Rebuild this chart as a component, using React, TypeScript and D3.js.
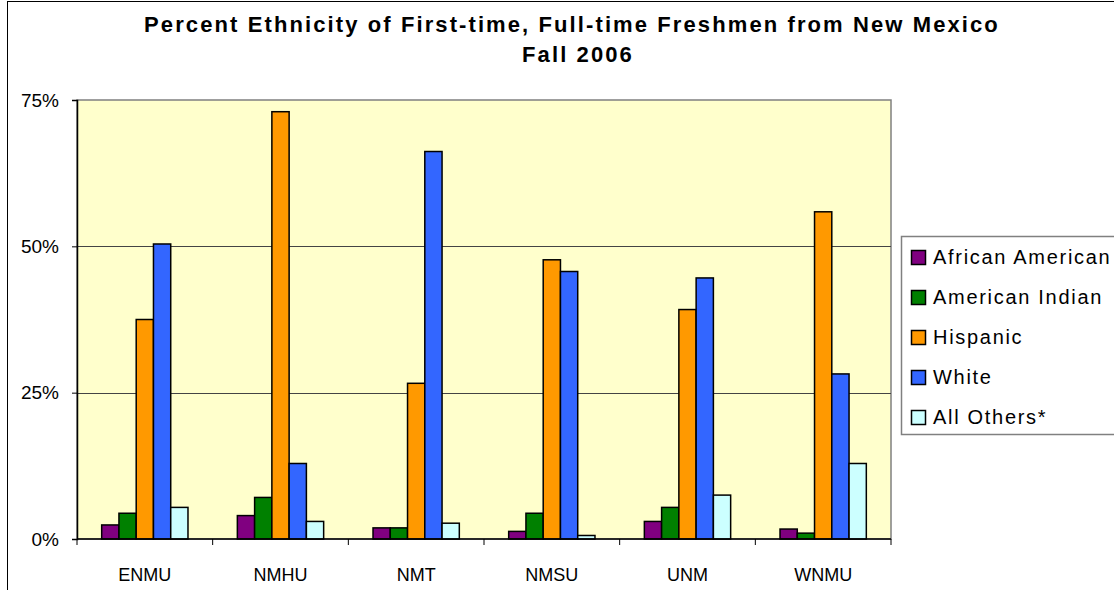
import * as d3 from "d3";
import { useEffect, useRef } from "react";

const schools = ["ENMU", "NMHU", "NMT", "NMSU", "UNM", "WNMU"];
const groups = ["African American", "American Indian", "Hispanic", "White", "All Others*"];

// percent values per school
const africanAmerican = [2.4, 4.0, 1.9, 1.3, 3.0, 1.7];
const americanIndian = [4.4, 7.1, 1.9, 4.4, 5.4, 1.0];
const hispanic = [37.5, 73.0, 26.6, 47.7, 39.2, 55.9];
const white = [50.4, 12.9, 66.2, 45.7, 44.6, 28.2];
const allOthers = [5.4, 3.0, 2.7, 0.6, 7.5, 12.9];

const yTicks = [0, 25, 50, 75];
const colors = ["#800080", "#008000", "#FF9900", "#3366FF", "#CCFFFF"];

const W = 1114;
const H = 590;
const plot = { left: 77, right: 891, top: 100, bottom: 539 };
const font = "'Liberation Sans', Arial, sans-serif";

function drawChart(node: SVGSVGElement) {
  const svg = d3.select(node);
  svg.selectAll("*").remove();

  const series = [africanAmerican, americanIndian, hispanic, white, allOthers];
  const rows = schools.map((s, i) => ({
    school: s,
    values: groups.map((g, j) => ({ group: g, value: series[j][i] })),
  }));

  // outer chart border
  svg
    .append("rect")
    .attr("x", 7.5)
    .attr("y", 1.5)
    .attr("width", W + 20)
    .attr("height", H + 20)
    .attr("fill", "white")
    .attr("stroke", "#000")
    .attr("stroke-width", 1);

  const x0 = d3
    .scaleBand()
    .domain(schools)
    .range([plot.left, plot.right])
    .paddingInner(0)
    .paddingOuter(0);

  const x1 = d3
    .scaleBand()
    .domain(groups)
    .range([0, x0.bandwidth()])
    .paddingInner(0)
    .paddingOuter(1.43);

  const y = d3.scaleLinear().domain([0, 75]).range([plot.bottom, plot.top]);

  // plot area background
  svg
    .append("rect")
    .attr("x", plot.left)
    .attr("y", plot.top)
    .attr("width", plot.right - plot.left)
    .attr("height", plot.bottom - plot.top)
    .attr("fill", "#FFFFCC")
    .attr("stroke", "#808080")
    .attr("stroke-width", 1.5);

  // gridlines
  svg
    .append("g")
    .selectAll("line")
    .data(yTicks.filter((t) => t > 0 && t < 75))
    .join("line")
    .attr("x1", plot.left)
    .attr("x2", plot.right)
    .attr("y1", (d) => Math.round(y(d)) + 0.5)
    .attr("y2", (d) => Math.round(y(d)) + 0.5)
    .attr("stroke", "#444")
    .attr("stroke-width", 1);

  // bars
  svg
    .append("g")
    .selectAll("g")
    .data(rows)
    .join("g")
    .attr("transform", (d) => `translate(${x0(d.school)},0)`)
    .selectAll("rect")
    .data((d) => d.values)
    .join("rect")
    .attr("x", (d) => x1(d.group) as number)
    .attr("width", x1.bandwidth())
    .attr("y", (d) => y(d.value))
    .attr("height", (d) => y(0) - y(d.value))
    .attr("fill", (d, i) => colors[i])
    .attr("stroke", "#000")
    .attr("stroke-width", 1.5);

  // y axis
  const yAxis = svg
    .append("g")
    .attr("transform", `translate(${plot.left},0)`)
    .call(
      d3
        .axisLeft(y)
        .tickValues(yTicks)
        .tickSize(5)
        .tickPadding(13)
        .tickFormat((d) => `${d}%`)
    );
  yAxis.select(".domain").attr("stroke", "#000").attr("stroke-width", 1.5);
  yAxis.selectAll("line").attr("stroke", "#000");
  yAxis
    .selectAll("text")
    .attr("fill", "#000")
    .style("font-family", font)
    .style("font-size", "19px");

  // x axis
  const xAxis = svg.append("g").attr("transform", `translate(0,${plot.bottom})`);
  xAxis
    .append("line")
    .attr("x1", plot.left)
    .attr("x2", plot.right)
    .attr("stroke", "#000")
    .attr("stroke-width", 1.5);
  const edges = schools.map((s) => x0(s) as number).concat([plot.right]);
  xAxis
    .selectAll(".xtick")
    .data(edges)
    .join("line")
    .attr("x1", (d) => d)
    .attr("x2", (d) => d)
    .attr("y1", 0)
    .attr("y2", 6)
    .attr("stroke", "#000");
  xAxis
    .selectAll(".xlabel")
    .data(schools)
    .join("text")
    .attr("x", (d) => (x0(d) as number) + x0.bandwidth() / 2)
    .attr("y", 42)
    .attr("text-anchor", "middle")
    .style("font-family", font)
    .style("font-size", "18px")
    .text((d) => d);

  // title
  const title = svg
    .append("text")
    .attr("text-anchor", "middle")
    .style("font-family", font)
    .style("font-size", "22px")
    .style("font-weight", "bold")
    .style("letter-spacing", "2.1px");
  title.append("tspan").attr("x", 572).attr("y", 32).text("Percent Ethnicity of First-time, Full-time Freshmen from New Mexico");
  title.append("tspan").attr("x", 578).attr("y", 62).text("Fall 2006");

  // legend
  const legend = svg.append("g");
  legend
    .append("rect")
    .attr("x", 901.5)
    .attr("y", 236.5)
    .attr("width", 300)
    .attr("height", 198)
    .attr("fill", "white")
    .attr("stroke", "#808080")
    .attr("stroke-width", 1.5);

  const legendRows = legend
    .selectAll("g")
    .data(groups)
    .join("g")
    .attr("transform", (d, i) => `translate(911,${257 + i * 40})`);
  legendRows
    .append("rect")
    .attr("x", 0.5)
    .attr("y", -6.5)
    .attr("width", 14)
    .attr("height", 14)
    .attr("fill", (d, i) => colors[i])
    .attr("stroke", "#000")
    .attr("stroke-width", 1.5);
  legendRows
    .append("text")
    .attr("x", 22)
    .attr("y", 7)
    .style("font-family", font)
    .style("font-size", "20px")
    .style("letter-spacing", "1.7px")
    .text((d) => d);
}

export default function App() {
  const ref = useRef<SVGSVGElement>(null);

  useEffect(() => {
    if (ref.current) drawChart(ref.current);
  }, []);

  return (
    <div style={{ position: "fixed", left: 0, top: 0, width: W, height: H, background: "white" }}>
      <svg ref={ref} width={W} height={H}></svg>
    </div>
  );
}
